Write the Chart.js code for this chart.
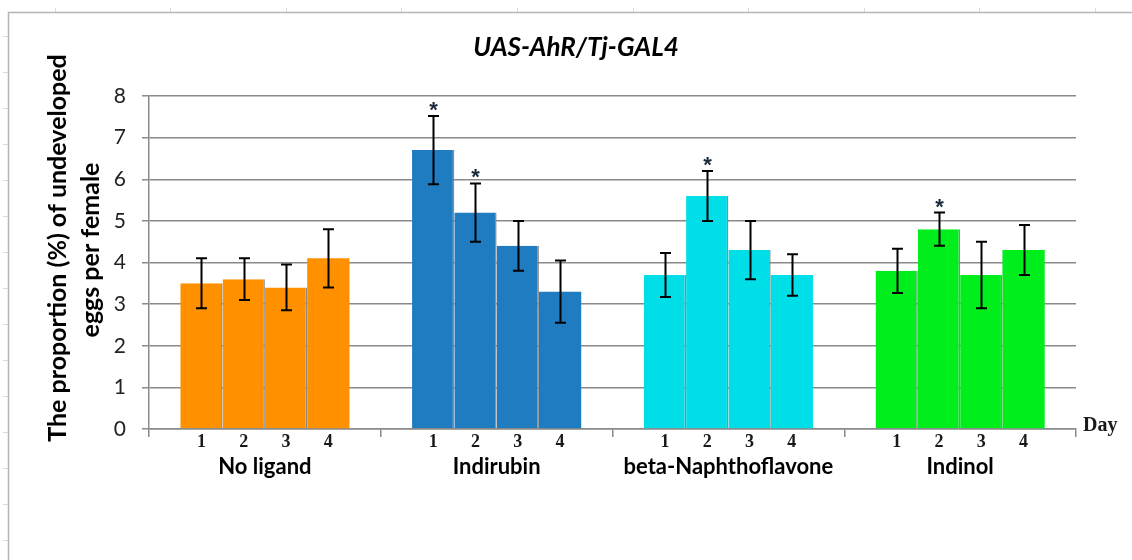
<!DOCTYPE html>
<html>
<head>
<meta charset="utf-8">
<script src="https://cdn.jsdelivr.net/npm/chart.js@4.4.1/dist/chart.umd.min.js"></script>
<style>
  html, body { margin: 0; padding: 0; background: #ffffff; }
  #wrap { width: 1132px; height: 560px; position: relative; }
</style>
</head>
<body>
<div id="wrap"><canvas id="c" width="1132" height="560"></canvas></div>
<script>
// ---- data ----
const groups = ["No ligand", "Indirubin", "beta-Naphthoflavone", "Indinol"];
const days = ["1", "2", "3", "4"];
const groupColors = ["#FF9100", "#1F7CC0", "#00DFE8", "#00EE1C"];

const noLigand = [3.5, 3.6, 3.4, 4.1];
const indirubin = [6.7, 5.2, 4.4, 3.3];
const betaNaphthoflavone = [3.7, 5.6, 4.3, 3.7];
const indinol = [3.8, 4.8, 3.7, 4.3];

const noLigandErr = [0.6, 0.5, 0.55, 0.7];
const indirubinErr = [0.82, 0.7, 0.6, 0.75];
const betaNaphthoflavoneErr = [0.53, 0.6, 0.7, 0.5];
const indinolErr = [0.53, 0.4, 0.8, 0.6];

const noLigandSig = [false, false, false, false];
const indirubinSig = [true, true, false, false];
const betaNaphthoflavoneSig = [false, true, false, false];
const indinolSig = [false, true, false, false];

const yTicks = [0, 1, 2, 3, 4, 5, 6, 7, 8];
const titleText = "UAS-AhR/Tj-GAL4";
const yTitleLines = ["The proportion (%) of undeveloped", "eggs per female"];
const xUnitText = "Day";

// ---- build ----
const values = [noLigand, indirubin, betaNaphthoflavone, indinol];
const errors = [noLigandErr, indirubinErr, betaNaphthoflavoneErr, indinolErr];
const sigs = [noLigandSig, indirubinSig, betaNaphthoflavoneSig, indinolSig];

const GRID = "#8a8a8a";
const datasets = days.map((d, di) => ({
  label: "Day " + d,
  data: values.map(g => g[di]),
  backgroundColor: groupColors,
  borderColor: "#8a8a8a",
  borderWidth: di < days.length - 1 ? {top: 0, left: 0, bottom: 0, right: 1.5} : 0,
  borderSkipped: false,
  categoryPercentage: 0.73,
  barPercentage: 1.0
}));

const decorPlugin = {
  id: "decor",
  beforeDraw(chart) {
    const ctx = chart.ctx;
    ctx.save();
    ctx.strokeStyle = "#b4b4b4";
    ctx.lineWidth = 1.5;
    ctx.beginPath();
    ctx.moveTo(8.5, 560); ctx.lineTo(8.5, 12.5); ctx.lineTo(1132, 12.5);
    ctx.stroke();
    ctx.strokeStyle = "#d6d9e3";
    ctx.lineWidth = 1;
    ctx.beginPath();
    for (let y = 36; y < 560; y += 36) { ctx.moveTo(3, y + 0.5); ctx.lineTo(8, y + 0.5); }
    for (let x = 54.5; x < 1132; x += 115.6) { ctx.moveTo(Math.round(x) + 0.5, 8); ctx.lineTo(Math.round(x) + 0.5, 12); }
    ctx.stroke();
    ctx.restore();
  },
  afterDatasetsDraw(chart) {
    const ctx = chart.ctx;
    const ys = chart.scales.y;
    ctx.save();
    chart.data.datasets.forEach((ds, di) => {
      const meta = chart.getDatasetMeta(di);
      meta.data.forEach((bar, gi) => {
        const v = values[gi][di], e = errors[gi][di];
        const x = Math.round(bar.x) + 0.5;
        const yt = ys.getPixelForValue(v + e);
        const yb = ys.getPixelForValue(v - e);
        ctx.strokeStyle = "#000";
        ctx.lineWidth = 2;
        ctx.beginPath();
        ctx.moveTo(x, yt); ctx.lineTo(x, yb);
        ctx.moveTo(x - 5.5, yt); ctx.lineTo(x + 5.5, yt);
        ctx.moveTo(x - 5.5, yb); ctx.lineTo(x + 5.5, yb);
        ctx.stroke();
        if (sigs[gi][di]) {
          ctx.fillStyle = "#1a2a3a";
          ctx.font = "bold 22px 'Liberation Sans'";
          ctx.textAlign = "center";
          ctx.textBaseline = "alphabetic";
          ctx.fillText("*", x, yt + 1);
        }
      });
    });
    ctx.restore();
  },
  afterDraw(chart) {
    const ctx = chart.ctx;
    const area = chart.chartArea;
    const xs = chart.scales.x;
    ctx.save();
    ctx.fillStyle = "#000";
    ctx.textAlign = "center";
    ctx.textBaseline = "middle";
    ctx.font = "italic bold 26px Lato";
    ctx.fillText(titleText, 576, 48);
    ctx.font = "bold 25px Lato";
    ctx.save();
    ctx.translate(58, 248);
    ctx.rotate(-Math.PI / 2);
    ctx.fillText(yTitleLines[0], 0, 0);
    ctx.restore();
    ctx.save();
    ctx.translate(91, 250);
    ctx.rotate(-Math.PI / 2);
    ctx.fillText(yTitleLines[1], 0, 0);
    ctx.restore();
    ctx.font = "bold 18px 'Liberation Serif'";
    ctx.fillStyle = "#1a1a1a";
    chart.data.datasets.forEach((ds, di) => {
      const meta = chart.getDatasetMeta(di);
      meta.data.forEach(bar => {
        ctx.fillText(days[di], bar.x, 442);
      });
    });
    ctx.font = "bold 22px Lato";
    ctx.fillStyle = "#000";
    groups.forEach((g, gi) => {
      ctx.fillText(g, xs.getPixelForValue(gi), 467);
    });
    ctx.font = "bold 20px 'Liberation Serif'";
    ctx.textAlign = "left";
    ctx.fillStyle = "#1a1a1a";
    ctx.fillText(xUnitText, area.right + 7, 426);
    ctx.restore();
  }
};

new Chart(document.getElementById("c"), {
  type: "bar",
  data: { labels: groups, datasets },
  options: {
    responsive: false,
    animation: false,
    devicePixelRatio: 1,
    layout: { padding: { top: 96, right: 56, bottom: 0, left: 0 } },
    plugins: { legend: { display: false }, tooltip: { enabled: false }, title: { display: false } },
    scales: {
      x: {
        type: "category",
        offset: true,
        grid: { offset: true, drawOnChartArea: false, drawTicks: true, tickLength: 8, color: GRID, lineWidth: 1.5 },
        border: { display: true, color: GRID, width: 1.5 },
        ticks: { display: false },
        afterFit(scale) { scale.height = 131; }
      },
      y: {
        min: 0, max: 8,
        afterBuildTicks(scale) { scale.ticks = yTicks.map(v => ({ value: v })); },
        grid: { color: GRID, lineWidth: 1.5, tickLength: 7, drawTicks: true },
        border: { display: true, color: GRID, width: 1.5 },
        ticks: { padding: 16, color: "#222", font: { family: "Lato", size: 21 } },
        afterFit(scale) { scale.width = 149; }
      }
    }
  },
  plugins: [decorPlugin]
});
</script>
</body>
</html>
